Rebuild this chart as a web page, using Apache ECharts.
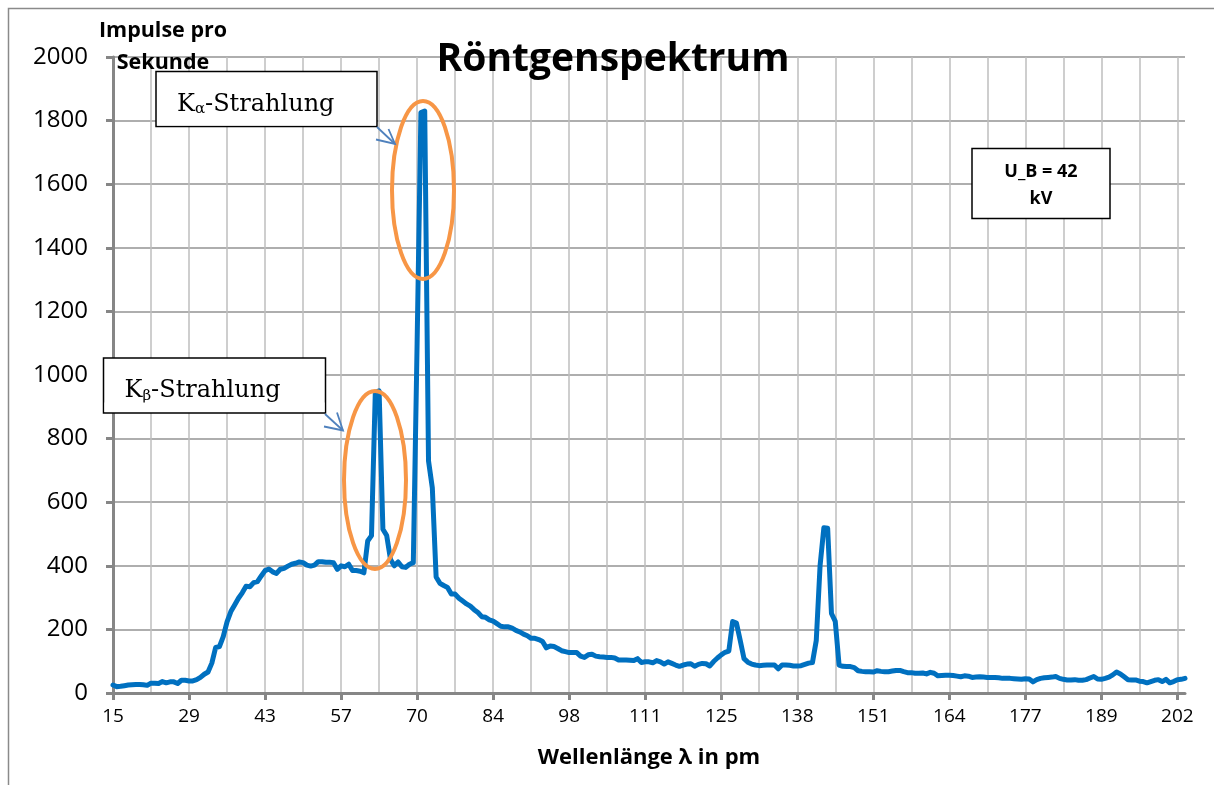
<!DOCTYPE html>
<html>
<head>
<meta charset="utf-8">
<script src="https://cdn.jsdelivr.net/npm/echarts/dist/echarts.min.js"></script>
<style>
html,body{margin:0;padding:0;background:#fff;}
#chart{width:1214px;height:785px;}
</style>
</head>
<body>
<div id="chart"></div>
<script>
// Tick labels (wavelength in pm), one every 20 measurement points
const tickLabels = ['15','29','43','57','70','84','98','111','125','138','151','164','177','189','202'];

const counts = [
  25,20,21,23,25,26,27,27,26,24,
  31,31,30,36,32,35,35,30,40,40,
  38,38,42,49,59,66,94,143,146,177,
  224,256,277,298,315,336,334,347,350,368,
  385,390,381,376,389,392,399,405,408,412,
  410,402,399,402,413,413,411,411,410,389,
  400,397,405,385,385,383,378,478,495,945,
  950,515,495,420,400,412,397,395,405,410,
  1100,1825,1830,730,645,365,345,338,332,311,
  311,298,289,280,273,262,253,240,238,230,
  226,218,210,208,208,204,197,192,185,180,
  172,172,168,162,142,148,146,140,133,130,
  127,127,127,116,112,120,122,116,114,113,
  112,112,110,104,104,104,103,102,108,96,
  98,98,95,102,98,91,98,93,88,84,
  88,91,92,84,90,93,92,85,99,110,
  120,128,132,225,220,165,108,97,91,88,
  86,87,88,88,88,76,88,88,87,85,
  85,86,90,94,96,165,400,520,518,250,
  225,88,84,83,83,80,70,68,67,67,
  66,70,68,67,67,69,71,71,67,64,
  64,62,62,63,60,65,62,54,55,56,
  56,55,53,51,54,53,49,50,51,50,
  49,49,49,48,46,46,46,45,44,43,
  45,44,35,42,46,48,49,50,52,46,
  43,41,41,42,40,40,42,47,52,44,
  43,46,50,57,66,60,51,42,41,41,
  37,36,32,36,40,42,36,43,32,36,
  42,43,46
];

const yTicks = { min: 0, max: 2000, interval: 200 };

const categories = counts.map((_, i) => String(i));

const chart = echarts.init(document.getElementById('chart'), null, { renderer: 'canvas' });

const font = '"Open Sans", "Liberation Sans", sans-serif';
const serif = '"DejaVu Serif", "Liberation Serif", serif';

function arrow(tip, shaftStart, h1, h2) {
  return [
    { type: 'polyline', z: 101, shape: { points: [shaftStart, tip] }, style: { stroke: '#4F81BD', lineWidth: 1.8, fill: null } },
    { type: 'polyline', z: 101, shape: { points: [h1, tip, h2] }, style: { stroke: '#4F81BD', lineWidth: 1.8, fill: null } }
  ];
}

function labelBox(x, y, w, h, sub, clipY) {
  return [
    { type: 'rect', z: 100, shape: { x: x, y: y, width: w, height: h }, style: { fill: '#fff', stroke: '#000', lineWidth: 1.5 } },
    { type: 'text', z: 101, x: x + 21, y: y + 33,
      style: {
        text: '{k|K}{s|' + sub + '}{k|-Strahlung}',
        verticalAlign: 'middle', align: 'left',
        rich: {
          k: { fontFamily: serif, fontSize: 24, fill: '#000', lineHeight: 30 },
          s: { fontFamily: serif, fontSize: 15, fill: '#000', lineHeight: 30, padding: [10, 0, 0, 0] }
        }
      } },
    { type: 'rect', z: 102, shape: { x: x + 1, y: clipY, width: w - 2, height: y + h - clipY - 1 }, style: { fill: '#fff' } }
  ];
}

const option = {
  animation: false,
  backgroundColor: '#fff',
  grid: { left: 113, right: 29, top: 57, bottom: 92 },
  xAxis: {
    type: 'category',
    data: categories,
    boundaryGap: false,
    axisLine: { show: true, lineStyle: { color: '#868686', width: 3 } },
    axisTick: { show: true, interval: 19, length: 7, lineStyle: { color: '#868686', width: 3 } },
    axisLabel: {
      interval: 19, margin: 14, color: '#000', fontFamily: font, fontSize: 19,
      formatter: (v, i) => { const k = Number(v) / 20; return tickLabels[k] !== undefined ? tickLabels[k] : ''; }
    },
    splitLine: { show: true, interval: 9, lineStyle: { color: '#BEBEBE', width: 1.5 } }
  },
  yAxis: {
    type: 'value',
    min: yTicks.min, max: yTicks.max, interval: yTicks.interval,
    axisLine: { show: true, lineStyle: { color: '#868686', width: 3 } },
    axisTick: { show: true, length: 7, lineStyle: { color: '#868686', width: 3 } },
    axisLabel: { margin: 25, color: '#000', fontFamily: font, fontSize: 24, formatter: (v) => String(v) },
    splitLine: { show: true, lineStyle: { color: '#939393', width: 1.5 } }
  },
  series: [{
    type: 'line',
    data: counts,
    showSymbol: false,
    symbol: 'none',
    lineStyle: { color: '#0070C0', width: 5, join: 'round', cap: 'round' },
    emphasis: { disabled: true },
    silent: true,
    z: 5
  }],
  graphic: [
    { type: 'rect', z: 100, shape: { x: 8.5, y: 8.5, width: 1400, height: 1000 }, style: { fill: null, stroke: '#8a8a8a', lineWidth: 1.5 } },
    { type: 'text', z: 103, x: 613, y: 60, style: { text: 'Röntgenspektrum', fontFamily: font, fontWeight: 'bold', fontSize: 39, fill: '#000', align: 'center', verticalAlign: 'middle' } },
    { type: 'text', z: 103, x: 163, y: 31, style: { text: 'Impulse pro', fontFamily: font, fontWeight: 'bold', fontSize: 21.5, fill: '#000', align: 'center', verticalAlign: 'middle' } },
    { type: 'text', z: 103, x: 163, y: 63, style: { text: 'Sekunde', fontFamily: font, fontWeight: 'bold', fontSize: 21.5, fill: '#000', align: 'center', verticalAlign: 'middle' } },
    { type: 'text', z: 103, x: 649, y: 758, style: { text: 'Wellenlänge λ in pm', fontFamily: font, fontWeight: 'bold', fontSize: 22, fill: '#000', align: 'center', verticalAlign: 'middle' } },
    { type: 'ellipse', z: 100, shape: { cx: 423, cy: 190, rx: 31, ry: 89 }, style: { fill: null, stroke: '#F79646', lineWidth: 4 } },
    { type: 'ellipse', z: 100, shape: { cx: 375, cy: 480, rx: 31, ry: 89 }, style: { fill: null, stroke: '#F79646', lineWidth: 4 } },
    ...labelBox(156, 71.5, 221, 55, 'α', 116),
    ...labelBox(103.5, 358, 222, 55, 'β', 402.5),
    ...arrow([395, 144], [377, 127], [388.5, 129], [376, 139.5]),
    ...arrow([343, 430.5], [325, 414], [337, 412.5], [324, 426.5]),
    { type: 'rect', z: 100, shape: { x: 972, y: 148.5, width: 138, height: 70 }, style: { fill: '#fff', stroke: '#000', lineWidth: 1.5 } },
    { type: 'text', z: 101, x: 1041, y: 172, style: { text: 'U_B = 42', fontFamily: font, fontWeight: 'bold', fontSize: 18, fill: '#000', align: 'center', verticalAlign: 'middle' } },
    { type: 'text', z: 101, x: 1041, y: 199, style: { text: 'kV', fontFamily: font, fontWeight: 'bold', fontSize: 18, fill: '#000', align: 'center', verticalAlign: 'middle' } }
  ]
};

chart.setOption(option);
</script>
</body>
</html>
